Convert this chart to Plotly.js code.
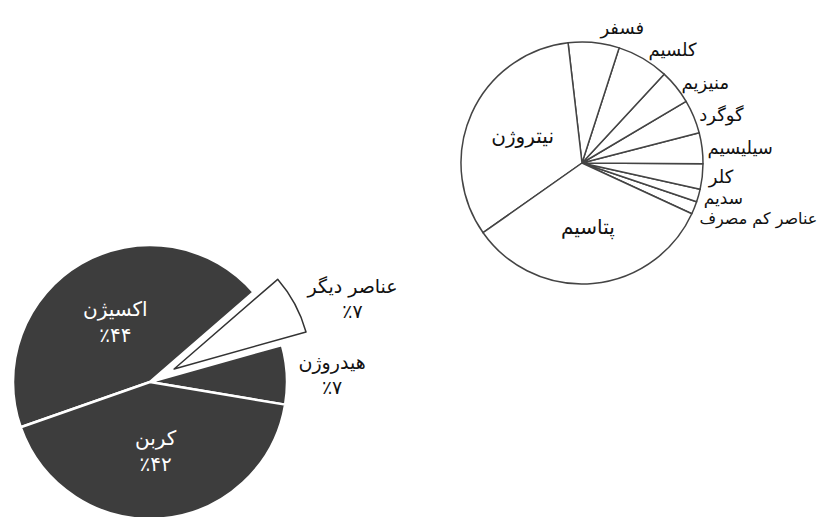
<!DOCTYPE html>
<html>
<head>
<meta charset="utf-8">
<script src="https://cdn.plot.ly/plotly-3.0.1.min.js"></script>
<style>
html, body { margin: 0; padding: 0; width: 821px; height: 517px; overflow: hidden; background: #ffffff; }
#chart { position: absolute; left: -40px; top: 0px; width: 900px; height: 600px; }
#chart path.textline { display: none !important; }
</style>
</head>
<body>
<div id="chart"></div>
<script>
// Left pie: composition of plant dry matter
const leftLabels = ['هیدروژن', 'عناصر دیگر', 'اکسیژن', 'کربن'];
const leftValues = [7, 7, 44, 42];
const leftPercentText = ['٪۷', '٪۷', '٪۴۴', '٪۴۲'];
const leftPull = [0, 0.2, 0, 0];

// Right pie: the "other elements" breakdown
const rightLabels = ['عناصر کم مصرف', 'سدیم', 'کلر', 'سیلیسیم', 'گوگرد', 'منیزیم', 'کلسیم', 'فسفر', 'نیتروژن', 'پتاسیم'];
const rightValues = [1.7, 1.7, 3.4, 4.1, 4.5, 4.6, 6.9, 6.8, 32.9, 33.3];

const FONT = '"DejaVu Sans", "Noto Sans", sans-serif';
const dark = '#3d3d3d';

const leftTrace = {
  type: 'pie',
  labels: leftLabels,
  values: leftValues,
  text: leftPercentText,
  texttemplate: '%{label}<br>%{text}',
  textposition: ['outside', 'outside', 'inside', 'inside'],
  insidetextorientation: 'horizontal',
  sort: false,
  direction: 'counterclockwise',
  rotation: 74.3,
  pull: leftPull,
  marker: {
    colors: [dark, '#ffffff', dark, dark],
    line: { color: ['#ffffff', '#333333', '#ffffff', '#ffffff'], width: [2.5, 1.5, 2.5, 2.5] }
  },
  insidetextfont: { family: FONT, size: 20, color: '#ffffff' },
  outsidetextfont: { family: FONT, size: 19, color: '#111111' },
  domain: { x: [0.02844, 0.39378], y: [0.08933, 0.63733] },
  hoverinfo: 'none',
  showlegend: false
};

const rightTrace = {
  type: 'pie',
  labels: rightLabels,
  values: rightValues,
  textinfo: 'label',
  textposition: ['outside', 'outside', 'outside', 'outside', 'outside', 'outside', 'outside', 'outside', 'inside', 'inside'],
  insidetextorientation: 'horizontal',
  sort: false,
  direction: 'counterclockwise',
  rotation: 108.7,
  marker: {
    colors: rightLabels.map(() => '#ffffff'),
    line: { color: '#444444', width: 1.5 }
  },
  insidetextfont: { family: FONT, size: 20, color: '#111111' },
  outsidetextfont: { family: FONT, size: [16, 17, 18, 18, 18, 18, 18, 18, 18, 18], color: '#111111' },
  domain: { x: [0.55667, 0.82556], y: [0.52667, 0.93] },
  hoverinfo: 'none',
  showlegend: false
};

const layout = {
  width: 900,
  height: 600,
  margin: { l: 0, r: 0, t: 0, b: 0 },
  paper_bgcolor: '#ffffff',
  plot_bgcolor: '#ffffff',
  font: { family: FONT, color: '#111111' },
  showlegend: false
};

Plotly.newPlot('chart', [leftTrace, rightTrace], layout, { staticPlot: true, displayModeBar: false });
</script>
</body>
</html>
